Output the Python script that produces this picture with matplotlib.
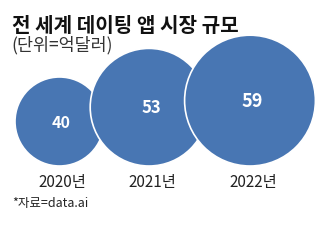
import matplotlib
matplotlib.use("Agg")
import matplotlib.pyplot as plt
from matplotlib.patches import Circle

plt.rcParams['font.family'] = ['Noto Sans CJK KR', 'DejaVu Sans']

title = "전 세계 데이팅 앱 시장 규모"
unit = "(단위=억달러)"
source = "*자료=data.ai"
years = ["2020년", "2021년", "2022년"]
values = [40, 53, 59]

blue = "#4876b3"

fig = plt.figure(figsize=(3.29, 2.44), dpi=100)
ax = fig.add_axes([0, 0, 1, 1])
ax.set_xlim(0, 329)
ax.set_ylim(244, 0)
ax.axis('off')

# layout: circles sit on a common baseline, radius grows with value
centers_x = [59.5, 149, 250]
base_y = 166
scale = 1.1
label_sizes = [11.5, 12, 13]

for i, (yr, v) in enumerate(zip(years, values)):
    r = v * scale + 0.5
    cy = base_y - r
    ax.add_patch(Circle((centers_x[i], cy), r, facecolor=blue,
                        edgecolor='white', linewidth=1.2, zorder=2 + i))
    ax.text(centers_x[i] + 2, cy + 1, str(v), color='white', fontsize=label_sizes[i],
            ha='center', va='center', fontweight='bold', zorder=10)
    ax.text(centers_x[i] + 3, 182, yr, fontsize=11, ha='center', va='center',
            color='#222222')

ax.text(12, 25, title, fontsize=14.5, fontweight='bold', ha='left', va='center',
        color='#111111')
ax.text(11, 45, unit, fontsize=12.5, ha='left', va='center', color='#333333')
ax.text(12, 203, source, fontsize=9, ha='left', va='center', color='#222222')

fig.savefig("out.png", dpi=100)
